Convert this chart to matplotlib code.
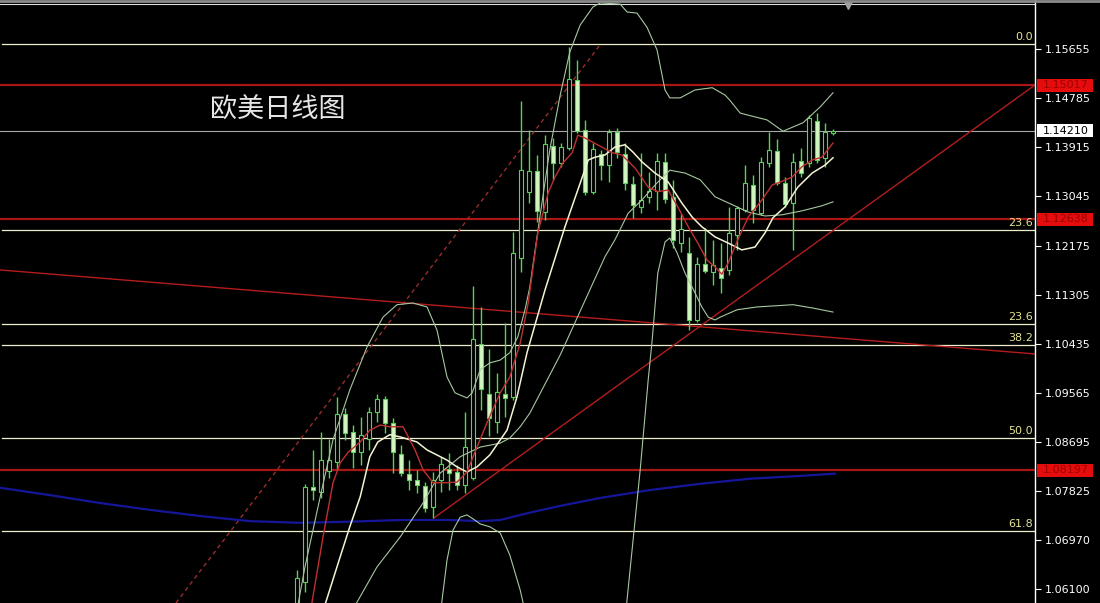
import numpy as np
import matplotlib
matplotlib.use("Agg")
import matplotlib.pyplot as plt
from matplotlib.patches import Rectangle
from matplotlib.lines import Line2D
import matplotlib.transforms as mtransforms

# ---------------- data (EUR/USD daily) ----------------
opens = [1.0573, 1.0622, 1.0790, 1.0782, 1.0819, 1.0835, 1.0920, 1.0888, 1.0852, 1.0875,
         1.0923, 1.0946, 1.0904, 1.0849, 1.0814, 1.0803, 1.0792, 1.0755, 1.0803, 1.0822,
         1.0817, 1.0794, 1.0806, 1.1044, 1.0955, 1.0906, 1.0955, 1.0950, 1.1196, 1.1312,
         1.1350, 1.1277, 1.1394, 1.1364, 1.1390, 1.1511, 1.1422, 1.1312, 1.1380, 1.1360,
         1.1419, 1.1380, 1.1327, 1.1286, 1.1304, 1.1314, 1.1366, 1.1304, 1.1222, 1.1205,
         1.1086, 1.1185, 1.1171, 1.1178, 1.1175, 1.1236, 1.1281, 1.1325, 1.1275, 1.1364,
         1.1385, 1.1328, 1.1293, 1.1367, 1.1364, 1.1438, 1.1373, 1.1417]
highs = [1.0644, 1.0796, 1.0856, 1.0888, 1.0875, 1.0950, 1.0930, 1.0900, 1.0914, 1.0932,
         1.0955, 1.0952, 1.0913, 1.0865, 1.0838, 1.0821, 1.0799, 1.0817, 1.0844, 1.0851,
         1.0829, 1.0923, 1.1146, 1.1109, 1.1035, 1.0992, 1.1081, 1.1242, 1.1474, 1.1423,
         1.1378, 1.1413, 1.1408, 1.1399, 1.1569, 1.1546, 1.1440, 1.1399, 1.1387, 1.1424,
         1.1426, 1.1399, 1.1341, 1.1382, 1.1348, 1.1382, 1.1382, 1.1334, 1.1274, 1.1233,
         1.1198, 1.1249, 1.1228, 1.1222, 1.1286, 1.1288, 1.1360, 1.1343, 1.1374, 1.1419,
         1.1406, 1.1339, 1.1382, 1.1390, 1.1449, 1.1452, 1.1435, 1.1424]
lows = [1.0560, 1.0605, 1.0767, 1.0771, 1.0806, 1.0821, 1.0874, 1.0824, 1.0829, 1.0856,
        1.0906, 1.0886, 1.0815, 1.0810, 1.0785, 1.0780, 1.0746, 1.0736, 1.0782, 1.0785,
        1.0785, 1.0780, 1.0803, 1.0927, 1.0880, 1.0886, 1.0915, 1.0944, 1.1170, 1.1293,
        1.1259, 1.1263, 1.1334, 1.1357, 1.1387, 1.1417, 1.1307, 1.1309, 1.1334, 1.1330,
        1.1373, 1.1316, 1.1267, 1.1276, 1.1293, 1.1281, 1.1293, 1.1213, 1.1206, 1.1068,
        1.1083, 1.1169, 1.1148, 1.1134, 1.1166, 1.1210, 1.1277, 1.1258, 1.1272, 1.1357,
        1.1325, 1.1286, 1.1210, 1.1339, 1.1357, 1.1364, 1.1357, 1.1413]
closes = [1.0630, 1.0790, 1.0785, 1.0838, 1.0838, 1.0920, 1.0886, 1.0852, 1.0883, 1.0923,
          1.0946, 1.0904, 1.0852, 1.0815, 1.0803, 1.0794, 1.0753, 1.0803, 1.0831, 1.0815,
          1.0794, 1.0861, 1.1052, 1.0964, 1.0913, 1.0959, 1.0948, 1.1205, 1.1351, 1.1350,
          1.1279, 1.1397, 1.1364, 1.1392, 1.1512, 1.1421, 1.1312, 1.1389, 1.1360, 1.1419,
          1.1383, 1.1328, 1.1290, 1.1298, 1.1314, 1.1367, 1.1300, 1.1228, 1.1247, 1.1086,
          1.1185, 1.1173, 1.1183, 1.1160, 1.1240, 1.1284, 1.1328, 1.1281, 1.1366, 1.1387,
          1.1328, 1.1291, 1.1366, 1.1346, 1.1443, 1.1369, 1.1419, 1.1421]

# fast moving average (red)
ma_red_x = [1.5, 3.25, 4.5, 5.4, 6.4, 7.9, 9.1, 10.4, 11.6, 13.25, 14.75, 15.75, 17, 18.75, 20,
            21.25, 22.5, 23.75, 25.4, 26.6, 27.9, 28.9, 30.1, 31.4, 32.25, 33.25, 34.4, 35.1, 36,
            36.9, 38.1, 39.4, 40.6, 42.25, 43.9, 45.1, 46.4, 47.6, 48.9, 50.1, 51.25, 52.25, 53.1,
            53.9, 55.1, 56.4, 58.1, 59.4, 60.4, 61.9, 63.1, 64.4, 65.6, 67]
ma_red_y = [1.0555, 1.0702, 1.0798, 1.0833, 1.0852, 1.0870, 1.0891, 1.0900, 1.0897, 1.0897,
            1.0856, 1.0821, 1.0798, 1.0798, 1.0799, 1.0817, 1.0861, 1.0904, 1.0957, 1.0985,
            1.1045, 1.1116, 1.1240, 1.1311, 1.1339, 1.1364, 1.1382, 1.1413, 1.1408, 1.1401,
            1.1392, 1.1382, 1.1378, 1.1355, 1.1321, 1.1313, 1.1316, 1.1286, 1.1251, 1.1222,
            1.1192, 1.1180, 1.1167, 1.1187, 1.1228, 1.1268, 1.1298, 1.1325, 1.1330, 1.1339,
            1.1357, 1.1369, 1.1374, 1.1399]

# slower moving average (cream)
ma_white_x = [2.9, 5.4, 6.6, 7.9, 9.1, 10.1, 11.6, 12.9, 14.1, 15, 16.25, 17.5, 18.75, 20, 21.25,
              22.5, 24.1, 26.25, 27.5, 28.75, 31, 33.5, 35.1, 36.4, 37.25, 38.5, 39.75, 41, 42,
              43.1, 44.75, 46.4, 48.1, 49.4, 50.6, 52.25, 53.9, 55.6, 57.25, 58.5, 59.5, 61, 62.6,
              64.4, 66, 67]
ma_white_y = [1.0555, 1.0667, 1.0720, 1.0773, 1.0844, 1.0870, 1.0883, 1.0879, 1.0874, 1.0870,
              1.0856, 1.0847, 1.0838, 1.0826, 1.0817, 1.0826, 1.0847, 1.0891, 1.0950, 1.1028,
              1.1139, 1.1251, 1.1316, 1.1369, 1.1374, 1.1378, 1.1392, 1.1396, 1.1383, 1.1366,
              1.1346, 1.1330, 1.1293, 1.1268, 1.1251, 1.1233, 1.1222, 1.1210, 1.1215, 1.1240,
              1.1267, 1.1286, 1.1321, 1.1346, 1.1360, 1.1373]

# Bollinger bands
bb_up_x = [0, 1, 2.9, 4.5, 6.6, 8.75, 10.75, 12.5, 14.5, 16.25, 17.5, 18.75, 19.75, 21.25, 21.9,
           22.9, 24.1, 25.4, 26.6, 27.6, 28.5, 29.1, 30.4, 31.6, 32.9, 34.1, 35.4, 37, 37.9, 40.4,
           41.25, 42.5, 43.75, 45, 46, 46.6, 47.9, 49.75, 51.9, 53.5, 54.1, 55.4, 58.75, 60.75,
           63.25, 65.4, 67]
bb_up_y = [1.0573, 1.0649, 1.0773, 1.0874, 1.0962, 1.1038, 1.1091, 1.1113, 1.1116, 1.1109,
           1.1068, 1.0985, 1.0957, 1.0948, 1.0957, 1.0998, 1.1010, 1.1015, 1.1028, 1.1056,
           1.1104, 1.1144, 1.1272, 1.1387, 1.1484, 1.1560, 1.1608, 1.1640, 1.1647, 1.1645,
           1.1631, 1.1629, 1.1604, 1.1564, 1.1493, 1.1479, 1.1479, 1.1493, 1.1497, 1.1484,
           1.1475, 1.1452, 1.1440, 1.1420, 1.1435, 1.1463, 1.1488]
bb_mid_x = [6.6, 10, 12.9, 15.75, 17.9, 20.4, 22.9, 25.4, 26.6, 27.9, 29.1, 32.9, 36.6, 38.5,
            39.75, 41.4, 43.1, 44.9, 46.6, 48.5, 50.4, 52.25, 54.4, 56.4, 58.5, 60.6, 63.1, 65.6, 67]
bb_mid_y = [1.0564, 1.0649, 1.0702, 1.0762, 1.0815, 1.0844, 1.0861, 1.0868, 1.0877, 1.0897,
            1.0921, 1.1024, 1.1139, 1.1198, 1.1228, 1.1275, 1.1298, 1.1327, 1.1351, 1.1346,
            1.1334, 1.1304, 1.1290, 1.1277, 1.1270, 1.1272, 1.1279, 1.1288, 1.1295]
bb_low_x = [17.9, 18.75, 19.5, 20.4, 21.25, 22, 22.9, 24.1, 25.4, 26.6, 27.9, 28.75, np.nan,
            41, 42.9, 43.9, 44.4, 45.1, 46, 46.6, 47.5, 48.5, 49.75, 50.6, 51.4, 52.25, 52.9, 55,
            57.5, 62, 64.5, 67]
bb_low_y = [1.0564, 1.0661, 1.0714, 1.0737, 1.0741, 1.0734, 1.0725, 1.0720, 1.0709, 1.0670,
            1.0608, 1.0555, np.nan,
            1.0555, 1.0821, 1.0980, 1.1051, 1.1169, 1.1224, 1.1231, 1.1205, 1.1169, 1.1134,
            1.1109, 1.1091, 1.1086, 1.1091, 1.1104, 1.1109, 1.1113, 1.1107, 1.1100]

# long moving average (navy)
ma_blue_x = [-37.1, -30.9, -24.6, -18.4, -12.1, -5.9, 0.4, 6.6, 12.9, 19.1, 22.9, 25.4, 29.1,
             32.9, 37.9, 44.1, 50.4, 56.6, 62.9, 67.25]
ma_blue_y = [1.0789, 1.0776, 1.0762, 1.0750, 1.0739, 1.0730, 1.0727, 1.0729, 1.0732, 1.0732,
             1.0730, 1.0732, 1.0745, 1.0757, 1.0771, 1.0785, 1.0796, 1.0805, 1.0810, 1.0814]

# drawn objects
fib_levels = [1.15737, 1.12452, 1.10789, 1.10418, 1.08772, 1.07127]
fib_labels = ["0.0", "23.6", "23.6", "38.2", "50.0", "61.8"]
red_levels = [1.15017, 1.12638, 1.08197]
red_labels = ["1.15017", "1.12638", "1.08197"]
bid_price = 1.14210
bid_label = "1.14210"
trend_down_x, trend_down_y = [-37.125, 92.25], [1.11745, 1.10258]
trend_up_x, trend_up_y = [17.125, 92.25], [1.07357, 1.15018]
channel_x, channel_y = [-15.125, 37.875], [1.05853, 1.15726]
tick_values = [1.15655, 1.14785, 1.13915, 1.13045, 1.12175, 1.11305, 1.10435,
               1.09565, 1.08695, 1.07825, 1.06970, 1.06100]
tick_labels = ["1.15655", "1.14785", "1.13915", "1.13045", "1.12175", "1.11305", "1.10435",
               "1.09565", "1.08695", "1.07825", "1.06970", "1.06100"]
title = "欧美日线图"

# ---------------- drawing ----------------
W, H = 1100, 603
fig = plt.figure(figsize=(W / 100, H / 100), dpi=100, facecolor="black")
ax = fig.add_axes([0, 0, 1035 / W, 1])
ax.set_facecolor("black")
ax.set_xlim(-37.125, 92.25)
y_lo, y_hi = 1.05851, 1.16522
ax.set_ylim(y_lo, y_hi)
px = (y_hi - y_lo) / H  # price per pixel

# horizontal levels
for lv in fib_levels:
    ax.axhline(lv, xmin=2 / 1035, xmax=1, color="#eeeecc", lw=0.9, zorder=1)
for lv, lab in zip(fib_levels, fib_labels):
    ax.text(1033 / 1035, lv + 2 * px, lab, transform=ax.get_yaxis_transform(),
            ha="right", va="bottom", color="#e4e494", fontsize=8, family="DejaVu Sans", zorder=6)
for lv in red_levels:
    ax.axhline(lv, color="#a81616", lw=1.6, zorder=1)
ax.axhline(bid_price, color="#a8a8a8", lw=0.8, zorder=1)
ax.axhline(y_hi - 4 * px, color="#dcdcdc", lw=0.8, zorder=1)

# trend lines
ax.plot(trend_down_x, trend_down_y, color="#b41c1c", lw=1.0, zorder=2)
ax.plot(trend_up_x, trend_up_y, color="#b41c1c", lw=1.0, zorder=2)
ax.plot(channel_x, channel_y, color="#9a2c2c", lw=1.0, ls=(0, (3, 2.5)), zorder=2)

# long MA
ax.plot(ma_blue_x, ma_blue_y, color="#16169a", lw=1.6, zorder=2)

# candles
green = "#5ad25a"
idx = np.arange(len(opens))
ax.vlines(idx, lows, highs, color=green, lw=1.0, zorder=3)
for i in idx:
    o, c = opens[i], closes[i]
    bottom = min(o, c)
    h = max(abs(c - o), 0.6 * px)
    bull = c >= o
    ax.add_patch(Rectangle((i - 0.31, bottom), 0.62, h,
                           facecolor="black" if bull else "#d4f6c2",
                           edgecolor=green, lw=0.8, zorder=4))

# indicators
ax.plot(bb_up_x, bb_up_y, color="#a6c8a0", lw=0.8, zorder=5)
ax.plot(bb_mid_x, bb_mid_y, color="#a6c8a0", lw=0.8, zorder=5)
ax.plot(bb_low_x, bb_low_y, color="#a6c8a0", lw=0.8, zorder=5)
ax.plot(ma_white_x, ma_white_y, color="#f4f4d2", lw=1.1, zorder=5)
ax.plot(ma_red_x, ma_red_y, color="#c03030", lw=1.0, zorder=5)

# shift marker
ax.plot([68.9], [y_hi - 5 * px], marker="v", color="#a0a0a0", ms=6, clip_on=False, zorder=7)

# axis styling
for s in ["left", "top", "bottom"]:
    ax.spines[s].set_visible(False)
ax.spines["right"].set_color("white")
ax.spines["right"].set_linewidth(1.0)
ax.set_xticks([])
ax.yaxis.tick_right()
ax.set_yticks(tick_values)
ax.set_yticklabels(tick_labels)
ax.tick_params(axis="y", colors="white", length=4, width=0.8, labelsize=8, pad=3)
for t in ax.get_yticklabels():
    t.set_family("DejaVu Sans")

# price badges
bt = mtransforms.blended_transform_factory(fig.transFigure, ax.transData)
for lv, lab in zip(red_levels, red_labels):
    ax.add_patch(Rectangle((1037 / W, lv - 6.5 * px), 56 / W, 13 * px, transform=bt,
                           facecolor="#e40c0c", edgecolor="none", clip_on=False, zorder=8))
    ax.text(1043 / W, lv, lab, transform=bt, ha="left", va="center", color="#a00000",
            fontsize=8, family="DejaVu Sans", clip_on=False, zorder=9)
ax.add_patch(Rectangle((1037 / W, bid_price - 6.5 * px), 56 / W, 13 * px, transform=bt,
                       facecolor="white", edgecolor="none", clip_on=False, zorder=8))
ax.text(1043 / W, bid_price, bid_label, transform=bt, ha="left", va="center", color="black",
        fontsize=8, family="DejaVu Sans", clip_on=False, zorder=9)

# top border
fig.add_artist(Line2D([0, 1], [1 - 1.2 / H, 1 - 1.2 / H], transform=fig.transFigure,
                      color="#8c8c8c", lw=2))

# title
fig.text(278 / W, 1 - 110 / H, title, ha="center", va="center", color="#e6e6e6",
         fontsize=19.5, fontweight="light", family=["Noto Sans CJK SC", "DejaVu Sans"])

fig.savefig("out.png", dpi=100, facecolor="black")
